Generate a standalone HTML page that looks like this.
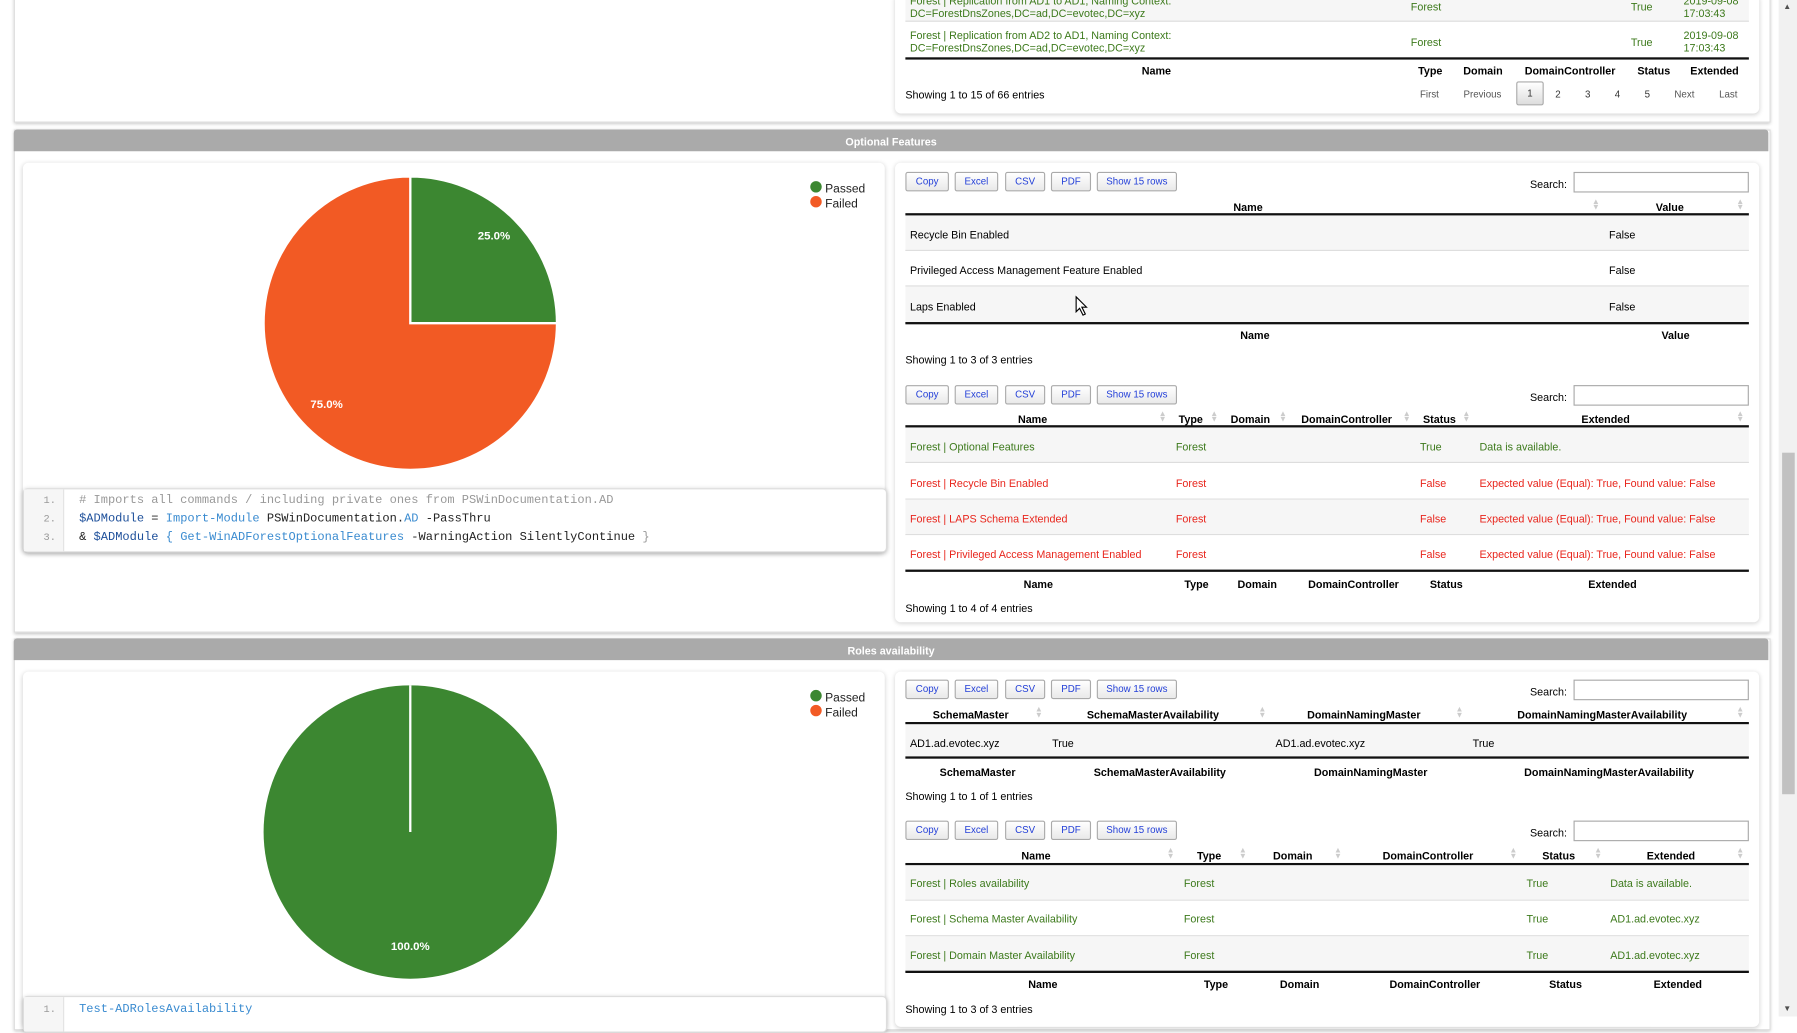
<!DOCTYPE html>
<html><head><meta charset="utf-8">
<style>
html,body{margin:0;padding:0;width:1797px;height:1016px;overflow:hidden;background:#fff;}
#w{position:absolute;left:0;top:0;width:1568px;height:887px;transform:scale(1.14605);transform-origin:0 0;font-family:"Liberation Sans",Arial,sans-serif;font-size:9.4px;color:#000;}
.a{position:absolute;white-space:nowrap;margin-top:1px;}
.sec{position:absolute;left:12px;width:1531px;background:#fff;border:1px solid #ddd;box-shadow:0 1px 3px rgba(0,0,0,.25);}
.hdr{position:absolute;left:12px;width:1531px;height:19px;background:#aaa;color:#fff;font-weight:bold;font-size:9.4px;text-align:center;line-height:21px;border-radius:3px 3px 0 0;}
.card{position:absolute;background:#fff;border-radius:5px;box-shadow:0 1px 4px rgba(0,0,0,.18);}
.btn{position:absolute;height:15px;line-height:15px;border:1px solid #aaa;border-radius:2px;background:linear-gradient(#fff,#e9e9e9);color:#2440d8;font-size:8.5px;text-align:center;}
.inp{position:absolute;width:151px;height:16px;border:1px solid #aaa;background:#fff;}
.b{font-weight:bold;}
.c{transform:translateX(-50%);}
.line{position:absolute;height:2px;background:#111;}
.row{position:absolute;background:#f6f6f6;border-bottom:1px solid #ddd;}
.g{color:#3d7a1c;}
.r{color:#e8261d;}
.sort{position:absolute;color:#ccc;font-size:7px;line-height:5px;}
.code{position:absolute;background:#fff;border:1px solid #ddd;border-radius:4px;box-shadow:0 1px 4px rgba(0,0,0,.2);}
.ln{position:absolute;color:#999;font-family:"Liberation Mono",monospace;font-size:9px;}
.m{font-family:"Liberation Mono",monospace;font-size:10.5px;}
</style></head><body><div id="w">

<div class="sec" style="top:-5px;height:110px;"></div>
<div class="card" style="left:781px;top:-5px;width:754px;height:104px;"></div>
<div class="row" style="left:790px;top:-2px;width:736px;height:20px;"></div>
<div class="a g" style="left:794px;top:-6px;">Forest | Replication from AD1 to AD1, Naming Context:</div>
<div class="a g" style="left:794px;top:5px;">DC=ForestDnsZones,DC=ad,DC=evotec,DC=xyz</div>
<div class="a g" style="left:1231px;top:-1px;">Forest</div>
<div class="a g" style="left:1423px;top:-1px;">True</div>
<div class="a g" style="left:1469px;top:-6px;">2019-09-08</div>
<div class="a g" style="left:1469px;top:5px;">17:03:43</div>
<div class="a g" style="left:794px;top:24px;">Forest | Replication from AD2 to AD1, Naming Context:</div>
<div class="a g" style="left:794px;top:35px;">DC=ForestDnsZones,DC=ad,DC=evotec,DC=xyz</div>
<div class="a g" style="left:1231px;top:30px;">Forest</div>
<div class="a g" style="left:1423px;top:30px;">True</div>
<div class="a g" style="left:1469px;top:24px;">2019-09-08</div>
<div class="a g" style="left:1469px;top:35px;">17:03:43</div>
<div class="line" style="left:790px;top:50px;width:736px;"></div>
<div class="a b c" style="left:1009px;top:55px;">Name</div>
<div class="a b c" style="left:1248px;top:55px;">Type</div>
<div class="a b c" style="left:1294px;top:55px;">Domain</div>
<div class="a b c" style="left:1370px;top:55px;">DomainController</div>
<div class="a b c" style="left:1443px;top:55px;">Status</div>
<div class="a b c" style="left:1496px;top:55px;">Extended</div>
<div class="a" style="left:790px;top:76px;">Showing 1 to 15 of 66 entries</div>
<div class="a" style="left:1239px;top:76px;color:#555;font-size:8.5px;">First</div>
<div class="a" style="left:1277px;top:76px;color:#555;font-size:8.5px;">Previous</div>
<div class="a" style="left:1323px;top:70px;width:22px;height:19px;border:1px solid #aaa;border-radius:2px;background:linear-gradient(#fff,#ddd);text-align:center;line-height:19px;font-size:8.5px;color:#333;">1</div>
<div class="a" style="left:1357px;top:76px;color:#333;font-size:8.5px;">2</div>
<div class="a" style="left:1383px;top:76px;color:#333;font-size:8.5px;">3</div>
<div class="a" style="left:1409px;top:76px;color:#333;font-size:8.5px;">4</div>
<div class="a" style="left:1435px;top:76px;color:#333;font-size:8.5px;">5</div>
<div class="a" style="left:1461px;top:76px;color:#555;font-size:8.5px;">Next</div>
<div class="a" style="left:1500px;top:76px;color:#555;font-size:8.5px;">Last</div>

<div class="sec" style="top:113px;height:437px;"></div>
<div class="hdr" style="top:113px;">Optional Features</div>
<div class="card" style="left:20px;top:142px;width:752px;height:340px;"></div>
<svg style="position:absolute;left:0;top:0;" width="800" height="500">
<path d="M358,282 L358,154 A128,128 0 0 1 486,282 Z" fill="#3c8731" stroke="#fff" stroke-width="2"/>
<path d="M358,282 L486,282 A128,128 0 1 1 358,154 Z" fill="#f25a24" stroke="#fff" stroke-width="2"/>
<text x="431" y="209" fill="#fff" font-size="10" font-weight="bold" text-anchor="middle" font-family="Liberation Sans">25.0%</text>
<text x="285" y="356" fill="#fff" font-size="10" font-weight="bold" text-anchor="middle" font-family="Liberation Sans">75.0%</text>
<circle cx="712" cy="163" r="5" fill="#3c8731"/><circle cx="712" cy="176" r="5" fill="#f25a24"/>
<text x="720" y="168" font-size="10.5" font-family="Liberation Sans" fill="#222">Passed</text>
<text x="720" y="181" font-size="10.5" font-family="Liberation Sans" fill="#222">Failed</text>
</svg>
<div class="code" style="left:20px;top:426px;width:752px;height:54px;">
<div style="position:absolute;left:0;top:0;width:34px;height:54px;background:#f6f6f6;border-right:1px solid #e4e4e4;"></div>
</div>
<div class="ln" style="left:38px;top:432px;">1.</div>
<div class="ln" style="left:38px;top:448px;">2.</div>
<div class="ln" style="left:38px;top:464px;">3.</div>
<div class="a m" style="left:69px;top:430px;color:#999;">#&nbsp;Imports all commands / including private ones from PSWinDocumentation.AD</div>
<div class="a m" style="left:69px;top:446px;color:#222;"><span style="color:#1d4f9a">$ADModule</span> = <span style="color:#3a8bd0">Import-Module</span> PSWinDocumentation.<span style="color:#3a8bd0">AD</span> -PassThru</div>
<div class="a m" style="left:69px;top:462px;color:#222;">&amp; <span style="color:#1d4f9a">$ADModule</span> <span style="color:#3a8bd0">{ Get-WinADForestOptionalFeatures</span> -WarningAction SilentlyContinue <span style="color:#999">}</span></div>

<div class="card" style="left:781px;top:142px;width:754px;height:401px;"></div>
<div class="btn" style="left:790px;top:150px;width:36px;">Copy</div>
<div class="btn" style="left:833px;top:150px;width:36px;">Excel</div>
<div class="btn" style="left:877px;top:150px;width:33px;">CSV</div>
<div class="btn" style="left:917px;top:150px;width:33px;">PDF</div>
<div class="btn" style="left:957px;top:150px;width:68px;">Show 15 rows</div>
<div class="a" style="left:1335px;top:154px;">Search:</div>
<div class="inp" style="left:1373px;top:150px;"></div>
<div class="a b c" style="left:1089px;top:174px;">Name</div>
<div class="a b c" style="left:1457px;top:174px;">Value</div>
<div class="sort" style="left:1389px;top:174px;">▲<br>▼</div>
<div class="sort" style="left:1515px;top:174px;">▲<br>▼</div>
<div class="line" style="left:790px;top:186px;width:736px;"></div>
<div class="row" style="left:790px;top:188px;width:736px;height:30px;"></div>
<div class="row" style="left:790px;top:219px;width:736px;height:30px;background:#fff;"></div>
<div class="row" style="left:790px;top:250px;width:736px;height:31px;"></div>
<div class="a" style="left:794px;top:198px;">Recycle Bin Enabled</div>
<div class="a" style="left:1404px;top:198px;">False</div>
<div class="a" style="left:794px;top:229px;">Privileged Access Management Feature Enabled</div>
<div class="a" style="left:1404px;top:229px;">False</div>
<div class="a" style="left:794px;top:261px;">Laps Enabled</div>
<div class="a" style="left:1404px;top:261px;">False</div>
<div class="line" style="left:790px;top:281px;width:736px;"></div>
<div class="a b c" style="left:1095px;top:286px;">Name</div>
<div class="a b c" style="left:1462px;top:286px;">Value</div>
<div class="a" style="left:790px;top:307px;">Showing 1 to 3 of 3 entries</div>
<svg style="position:absolute;left:938px;top:258px;" width="12" height="18"><path d="M1,1 L1,14 L4,11 L7,17 L9,16 L6,10 L10,10 Z" fill="#fff" stroke="#000" stroke-width="1"/></svg>

<div class="btn" style="left:790px;top:336px;width:36px;">Copy</div>
<div class="btn" style="left:833px;top:336px;width:36px;">Excel</div>
<div class="btn" style="left:877px;top:336px;width:33px;">CSV</div>
<div class="btn" style="left:917px;top:336px;width:33px;">PDF</div>
<div class="btn" style="left:957px;top:336px;width:68px;">Show 15 rows</div>
<div class="a" style="left:1335px;top:340px;">Search:</div>
<div class="inp" style="left:1373px;top:336px;"></div>
<div class="a b c" style="left:901px;top:359px;">Name</div>
<div class="a b c" style="left:1039px;top:359px;">Type</div>
<div class="a b c" style="left:1091px;top:359px;">Domain</div>
<div class="a b c" style="left:1175px;top:359px;">DomainController</div>
<div class="a b c" style="left:1256px;top:359px;">Status</div>
<div class="a b c" style="left:1401px;top:359px;">Extended</div>
<div class="sort" style="left:1011px;top:359px;">▲<br>▼</div>
<div class="sort" style="left:1056px;top:359px;">▲<br>▼</div>
<div class="sort" style="left:1116px;top:359px;">▲<br>▼</div>
<div class="sort" style="left:1224px;top:359px;">▲<br>▼</div>
<div class="sort" style="left:1276px;top:359px;">▲<br>▼</div>
<div class="sort" style="left:1515px;top:359px;">▲<br>▼</div>
<div class="line" style="left:790px;top:371px;width:736px;"></div>
<div class="row" style="left:790px;top:373px;width:736px;height:30px;"></div>
<div class="row" style="left:790px;top:404px;width:736px;height:31px;background:#fff;"></div>
<div class="row" style="left:790px;top:436px;width:736px;height:30px;"></div>
<div class="row" style="left:790px;top:467px;width:736px;height:30px;background:#fff;"></div>
<div class="a g" style="left:794px;top:383px;">Forest | Optional Features</div>
<div class="a g" style="left:1026px;top:383px;">Forest</div>
<div class="a g" style="left:1239px;top:383px;">True</div>
<div class="a g" style="left:1291px;top:383px;">Data is available.</div>
<div class="a r" style="left:794px;top:415px;">Forest | Recycle Bin Enabled</div>
<div class="a r" style="left:1026px;top:415px;">Forest</div>
<div class="a r" style="left:1239px;top:415px;">False</div>
<div class="a r" style="left:1291px;top:415px;">Expected value (Equal): True, Found value: False</div>
<div class="a r" style="left:794px;top:446px;">Forest | LAPS Schema Extended</div>
<div class="a r" style="left:1026px;top:446px;">Forest</div>
<div class="a r" style="left:1239px;top:446px;">False</div>
<div class="a r" style="left:1291px;top:446px;">Expected value (Equal): True, Found value: False</div>
<div class="a r" style="left:794px;top:477px;">Forest | Privileged Access Management Enabled</div>
<div class="a r" style="left:1026px;top:477px;">Forest</div>
<div class="a r" style="left:1239px;top:477px;">False</div>
<div class="a r" style="left:1291px;top:477px;">Expected value (Equal): True, Found value: False</div>
<div class="line" style="left:790px;top:497px;width:736px;"></div>
<div class="a b c" style="left:906px;top:503px;">Name</div>
<div class="a b c" style="left:1044px;top:503px;">Type</div>
<div class="a b c" style="left:1097px;top:503px;">Domain</div>
<div class="a b c" style="left:1181px;top:503px;">DomainController</div>
<div class="a b c" style="left:1262px;top:503px;">Status</div>
<div class="a b c" style="left:1407px;top:503px;">Extended</div>
<div class="a" style="left:790px;top:524px;">Showing 1 to 4 of 4 entries</div>

<div class="sec" style="top:557px;height:340px;"></div>
<div class="hdr" style="top:557px;">Roles availability</div>
<div class="card" style="left:20px;top:586px;width:752px;height:310px;"></div>
<svg style="position:absolute;left:0;top:0;" width="800" height="887">
<circle cx="358" cy="726" r="128" fill="#3c8731"/>
<line x1="358" y1="726" x2="358" y2="598" stroke="#fff" stroke-width="2"/>
<text x="358" y="829" fill="#fff" font-size="10" font-weight="bold" text-anchor="middle" font-family="Liberation Sans">100.0%</text>
<circle cx="712" cy="607" r="5" fill="#3c8731"/><circle cx="712" cy="620" r="5" fill="#f25a24"/>
<text x="720" y="612" font-size="10.5" font-family="Liberation Sans" fill="#222">Passed</text>
<text x="720" y="625" font-size="10.5" font-family="Liberation Sans" fill="#222">Failed</text>
</svg>
<div class="code" style="left:20px;top:869px;width:752px;height:30px;">
<div style="position:absolute;left:0;top:0;width:34px;height:30px;background:#f6f6f6;border-right:1px solid #e4e4e4;"></div>
</div>
<div class="ln" style="left:38px;top:876px;">1.</div>
<div class="a m" style="left:69px;top:874px;color:#3a8bd0;">Test-ADRolesAvailability</div>

<div class="card" style="left:781px;top:586px;width:754px;height:310px;"></div>
<div class="btn" style="left:790px;top:593px;width:36px;">Copy</div>
<div class="btn" style="left:833px;top:593px;width:36px;">Excel</div>
<div class="btn" style="left:877px;top:593px;width:33px;">CSV</div>
<div class="btn" style="left:917px;top:593px;width:33px;">PDF</div>
<div class="btn" style="left:957px;top:593px;width:68px;">Show 15 rows</div>
<div class="a" style="left:1335px;top:597px;">Search:</div>
<div class="inp" style="left:1373px;top:593px;"></div>
<div class="a b c" style="left:847px;top:617px;">SchemaMaster</div>
<div class="a b c" style="left:1006px;top:617px;">SchemaMasterAvailability</div>
<div class="a b c" style="left:1190px;top:617px;">DomainNamingMaster</div>
<div class="a b c" style="left:1398px;top:617px;">DomainNamingMasterAvailability</div>
<div class="sort" style="left:903px;top:617px;">▲<br>▼</div>
<div class="sort" style="left:1098px;top:617px;">▲<br>▼</div>
<div class="sort" style="left:1270px;top:617px;">▲<br>▼</div>
<div class="sort" style="left:1515px;top:617px;">▲<br>▼</div>
<div class="line" style="left:790px;top:630px;width:736px;"></div>
<div class="row" style="left:790px;top:632px;width:736px;height:28px;border:0;"></div>
<div class="a" style="left:794px;top:642px;">AD1.ad.evotec.xyz</div>
<div class="a" style="left:918px;top:642px;">True</div>
<div class="a" style="left:1113px;top:642px;">AD1.ad.evotec.xyz</div>
<div class="a" style="left:1285px;top:642px;">True</div>
<div class="line" style="left:790px;top:660px;width:736px;"></div>
<div class="a b c" style="left:853px;top:667px;">SchemaMaster</div>
<div class="a b c" style="left:1012px;top:667px;">SchemaMasterAvailability</div>
<div class="a b c" style="left:1196px;top:667px;">DomainNamingMaster</div>
<div class="a b c" style="left:1404px;top:667px;">DomainNamingMasterAvailability</div>
<div class="a" style="left:790px;top:688px;">Showing 1 to 1 of 1 entries</div>

<div class="btn" style="left:790px;top:716px;width:36px;">Copy</div>
<div class="btn" style="left:833px;top:716px;width:36px;">Excel</div>
<div class="btn" style="left:877px;top:716px;width:33px;">CSV</div>
<div class="btn" style="left:917px;top:716px;width:33px;">PDF</div>
<div class="btn" style="left:957px;top:716px;width:68px;">Show 15 rows</div>
<div class="a" style="left:1335px;top:720px;">Search:</div>
<div class="inp" style="left:1373px;top:716px;"></div>
<div class="a b c" style="left:904px;top:740px;">Name</div>
<div class="a b c" style="left:1055px;top:740px;">Type</div>
<div class="a b c" style="left:1128px;top:740px;">Domain</div>
<div class="a b c" style="left:1246px;top:740px;">DomainController</div>
<div class="a b c" style="left:1360px;top:740px;">Status</div>
<div class="a b c" style="left:1458px;top:740px;">Extended</div>
<div class="sort" style="left:1018px;top:740px;">▲<br>▼</div>
<div class="sort" style="left:1081px;top:740px;">▲<br>▼</div>
<div class="sort" style="left:1164px;top:740px;">▲<br>▼</div>
<div class="sort" style="left:1317px;top:740px;">▲<br>▼</div>
<div class="sort" style="left:1391px;top:740px;">▲<br>▼</div>
<div class="sort" style="left:1515px;top:740px;">▲<br>▼</div>
<div class="line" style="left:790px;top:753px;width:736px;"></div>
<div class="row" style="left:790px;top:755px;width:736px;height:30px;"></div>
<div class="row" style="left:790px;top:786px;width:736px;height:30px;background:#fff;"></div>
<div class="row" style="left:790px;top:817px;width:736px;height:30px;"></div>
<div class="a g" style="left:794px;top:764px;">Forest | Roles availability</div>
<div class="a g" style="left:1033px;top:764px;">Forest</div>
<div class="a g" style="left:1332px;top:764px;">True</div>
<div class="a g" style="left:1405px;top:764px;">Data is available.</div>
<div class="a g" style="left:794px;top:795px;">Forest | Schema Master Availability</div>
<div class="a g" style="left:1033px;top:795px;">Forest</div>
<div class="a g" style="left:1332px;top:795px;">True</div>
<div class="a g" style="left:1405px;top:795px;">AD1.ad.evotec.xyz</div>
<div class="a g" style="left:794px;top:827px;">Forest | Domain Master Availability</div>
<div class="a g" style="left:1033px;top:827px;">Forest</div>
<div class="a g" style="left:1332px;top:827px;">True</div>
<div class="a g" style="left:1405px;top:827px;">AD1.ad.evotec.xyz</div>
<div class="line" style="left:790px;top:847px;width:736px;"></div>
<div class="a b c" style="left:910px;top:852px;">Name</div>
<div class="a b c" style="left:1061px;top:852px;">Type</div>
<div class="a b c" style="left:1134px;top:852px;">Domain</div>
<div class="a b c" style="left:1252px;top:852px;">DomainController</div>
<div class="a b c" style="left:1366px;top:852px;">Status</div>
<div class="a b c" style="left:1464px;top:852px;">Extended</div>
<div class="a" style="left:790px;top:874px;">Showing 1 to 3 of 3 entries</div>

<div style="position:absolute;left:1552px;top:0;width:16px;height:887px;background:#f1f1f1;"></div>
<div style="position:absolute;left:1555px;top:395px;width:11px;height:298px;background:#c1c1c1;"></div>
<div class="a" style="left:1556px;top:2px;font-size:7px;color:#505050;">▲</div>
<div class="a" style="left:1556px;top:876px;font-size:7px;color:#505050;">▼</div>
</div></body></html>
